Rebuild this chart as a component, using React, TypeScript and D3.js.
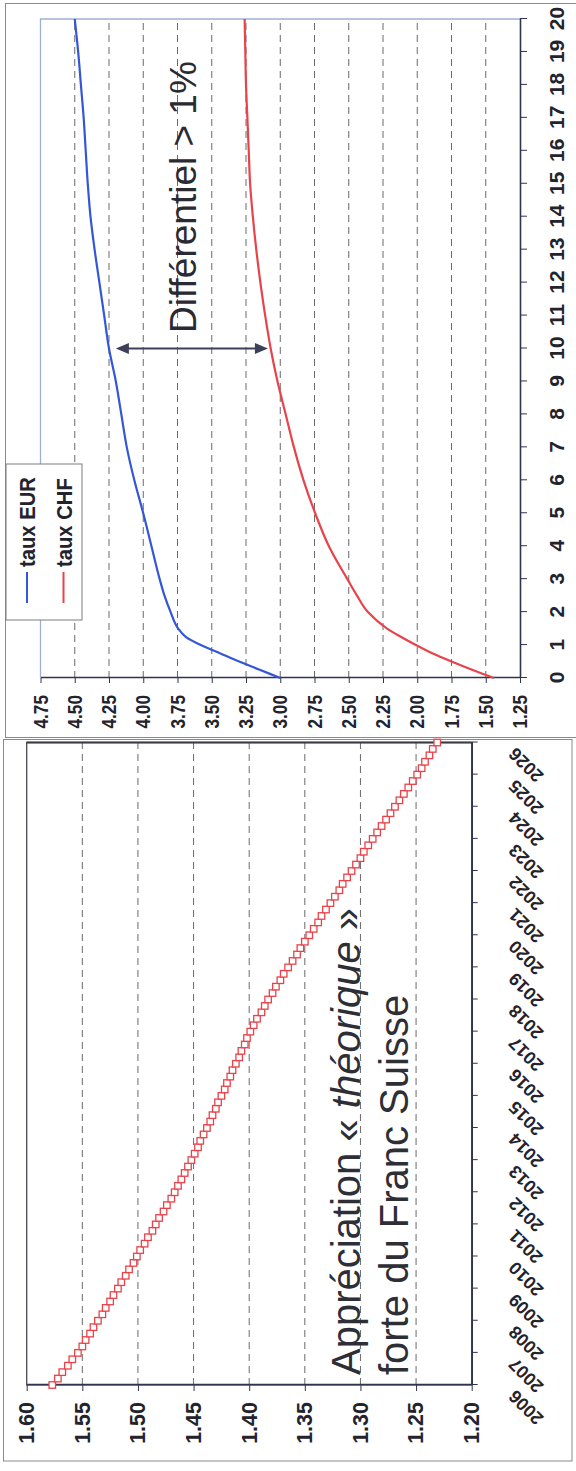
import { useEffect, useRef } from 'react';
import * as d3 from 'd3';

// the scan shows both charts turned a quarter turn counter-clockwise,
// so each one is drawn upright inside a <g> and that group is rotated -90deg
const width = 576
const height = 1471

const FONT = '"Liberation Sans", Arial, Helvetica, sans-serif'
const INK = '#23232d'
const AXIS = '#30344f'
const GRID = '#6a6a6a'
const BLUE = '#3357d6'
const RED = '#e8434b'

// top chart: yield curves
const maturities = [0, 0.25, 0.5, 0.75, 1, 1.25, 1.5, 2, 2.5, 3, 4, 5, 6, 7, 8, 9, 10, 11, 12, 13, 14, 15, 16, 17, 18, 19, 20]
const tauxEUR = [3.0, 3.15, 3.3, 3.44, 3.58, 3.69, 3.745, 3.8, 3.845, 3.88, 3.94, 4.0, 4.065, 4.12, 4.16, 4.2, 4.25, 4.285, 4.32, 4.355, 4.385, 4.405, 4.42, 4.435, 4.455, 4.475, 4.5]
const tauxCHF = [1.44, 1.6, 1.75, 1.89, 2.01, 2.12, 2.22, 2.36, 2.44, 2.51, 2.645, 2.745, 2.83, 2.9, 2.96, 3.02, 3.07, 3.11, 3.145, 3.175, 3.2, 3.22, 3.23, 3.24, 3.25, 3.255, 3.26]
const maturityTicks = [0, 1, 2, 3, 4, 5, 6, 7, 8, 9, 10, 11, 12, 13, 14, 15, 16, 17, 18, 19, 20]
const rateTicks = [4.75, 4.5, 4.25, 4.0, 3.75, 3.5, 3.25, 3.0, 2.75, 2.5, 2.25, 2.0, 1.75, 1.5, 1.25]
const legendLabels = ['taux EUR', 'taux CHF']

// bottom chart: EUR/CHF path, 5 points a year
const yearTicks = [2006, 2007, 2008, 2009, 2010, 2011, 2012, 2013, 2014, 2015, 2016, 2017, 2018, 2019, 2020, 2021, 2022, 2023, 2024, 2025, 2026]
const eurChf = [
  1.577, 1.572, 1.568, 1.563, 1.559,
  1.554, 1.55, 1.547, 1.543, 1.54,
  1.536, 1.532, 1.529, 1.525, 1.522,
  1.518, 1.515, 1.511, 1.508, 1.504,
  1.501, 1.498, 1.494, 1.491, 1.487,
  1.484, 1.481, 1.477, 1.474, 1.47,
  1.467, 1.464, 1.461, 1.458, 1.455,
  1.452, 1.449, 1.446, 1.444, 1.441,
  1.438, 1.435, 1.433, 1.43, 1.428,
  1.425, 1.422, 1.42, 1.417, 1.415,
  1.412, 1.409, 1.407, 1.404, 1.402,
  1.399, 1.396, 1.393, 1.389, 1.386,
  1.383, 1.379, 1.376, 1.372, 1.369,
  1.365, 1.361, 1.357, 1.354, 1.35,
  1.346, 1.342, 1.338, 1.335, 1.331,
  1.327, 1.323, 1.319, 1.316, 1.312,
  1.308, 1.304, 1.3, 1.297, 1.293,
  1.289, 1.285, 1.281, 1.277, 1.273,
  1.269, 1.265, 1.261, 1.257, 1.253,
  1.249, 1.245, 1.242, 1.238, 1.235,
  1.231,
]
const fxTicks = [1.6, 1.55, 1.5, 1.45, 1.4, 1.35, 1.3, 1.25, 1.2]

const App = () => {
  const d3svg = useRef(null)

  useEffect(() => {
    if (!d3svg.current) return
    const svg = d3.select(d3svg.current)
    svg.selectAll('*').remove()

    // scanned panel frames
    svg.append('rect').attr('x', 5.5).attr('y', 3.5).attr('width', 600).attr('height', 734)
      .attr('fill', 'none').attr('stroke', '#8a8a8a')
    svg.append('rect').attr('x', 3.5).attr('y', 739.5).attr('width', 568.5).attr('height', 721.5)
      .attr('fill', 'none').attr('stroke', '#8a8a8a')

    // ---------- top chart ----------
    const w1 = 659
    const h1 = 479.5
    const g1 = svg.append('g').attr('transform', 'translate(40.5,678) rotate(-90)')
    const x1 = d3.scaleLinear().domain([0, 20]).range([0, w1])
    const y1 = d3.scaleLinear().domain([1.25, 4.75]).range([h1, 0])

    g1.selectAll('.grid').data(rateTicks.filter(v => v > 1.25 && v < 4.75)).join('line')
      .attr('class', 'grid')
      .attr('x1', 0).attr('x2', w1)
      .attr('y1', d => y1(d)).attr('y2', d => y1(d))
      .attr('stroke', GRID).attr('stroke-dasharray', '7,5')

    // light plot border on the two far sides
    g1.append('path').attr('d', `M0,0H${w1}V${h1}`)
      .attr('fill', 'none').attr('stroke', '#9fb0d8').attr('stroke-width', 1.3)

    const xAxis1 = g1.append('g').attr('transform', `translate(0,${h1})`)
      .call(d3.axisBottom(x1).tickValues(maturityTicks).tickSize(7).tickSizeOuter(0).tickPadding(22).tickFormat(d3.format('d')))
    xAxis1.select('.domain').attr('stroke', AXIS).attr('stroke-width', 1.6)
    xAxis1.selectAll('.tick line').attr('stroke', AXIS)
    xAxis1.selectAll('.tick text')
      .attr('fill', INK).attr('font-size', 21).attr('font-weight', 'bold').attr('font-family', FONT)

    const narrow = 0.82
    const yAxis1 = g1.append('g')
      .call(d3.axisLeft(y1).tickValues(rateTicks).tickSize(5).tickSizeOuter(0).tickPadding(12).tickFormat(d3.format('.2f')))
    yAxis1.select('.domain').attr('stroke', AXIS).attr('stroke-width', 1.6)
    yAxis1.selectAll('.tick line').attr('stroke', AXIS)
    yAxis1.selectAll('.tick text')
      .attr('x', -17 / narrow)
      .attr('transform', `scale(${narrow},1)`)
      .attr('fill', INK).attr('font-size', 21).attr('font-weight', 'bold').attr('font-family', FONT)

    const line1 = d3.line<number>()
      .x((_, i) => x1(maturities[i]))
      .y(d => y1(d))
      .curve(d3.curveMonotoneX)

    g1.append('path').datum(tauxEUR).attr('d', line1)
      .attr('fill', 'none').attr('stroke', BLUE).attr('stroke-width', 2.2)
    g1.append('path').datum(tauxCHF).attr('d', line1)
      .attr('fill', 'none').attr('stroke', RED).attr('stroke-width', 2.2)

    // spread arrow at 10 years
    const ax = x1(10)
    const aTop = y1(4.2)
    const aBot = y1(3.09)
    const arrowColor = '#3c4058'
    g1.append('line').attr('x1', ax).attr('x2', ax).attr('y1', aTop + 8).attr('y2', aBot - 8)
      .attr('stroke', arrowColor).attr('stroke-width', 2.2)
    g1.append('path').attr('d', `M${ax},${aTop}L${ax - 5.5},${aTop + 13}L${ax + 5.5},${aTop + 13}Z`).attr('fill', arrowColor)
    g1.append('path').attr('d', `M${ax},${aBot}L${ax - 5.5},${aBot - 13}L${ax + 5.5},${aBot - 13}Z`).attr('fill', arrowColor)

    g1.append('text')
      .attr('x', 345).attr('y', 155.5)
      .attr('font-family', FONT).attr('font-size', 37).attr('fill', '#2a2a33')
      .text('Différentiel > 1%')

    // legend
    const leg = g1.append('g')
    leg.append('rect').attr('x', 58).attr('y', -34.5).attr('width', 156).attr('height', 76)
      .attr('fill', '#fff').attr('stroke', '#7d7d7d')
    const legColors = [BLUE, RED]
    const legBase = [-5.5, 31]
    legendLabels.forEach((label, i) => {
      leg.append('line').attr('x1', 75).attr('x2', 106)
        .attr('y1', legBase[i] - 8).attr('y2', legBase[i] - 8)
        .attr('stroke', legColors[i]).attr('stroke-width', 2)
      leg.append('text')
        .attr('transform', `translate(111,${legBase[i]}) scale(0.92,1)`)
        .attr('font-family', FONT).attr('font-size', 22).attr('font-weight', 'bold').attr('fill', INK)
        .text(label)
    })

    // ---------- bottom chart ----------
    const w2 = 642.5
    const h2 = 445
    const g2 = svg.append('g').attr('transform', 'translate(26.7,1385) rotate(-90)')
    const x2 = d3.scaleLinear().domain([2006, 2026]).range([0, w2])
    const y2 = d3.scaleLinear().domain([1.2, 1.6]).range([h2, 0])

    g2.selectAll('.grid').data(fxTicks.filter(v => v > 1.2 && v < 1.6)).join('line')
      .attr('class', 'grid')
      .attr('x1', 0).attr('x2', w2)
      .attr('y1', d => y2(d)).attr('y2', d => y2(d))
      .attr('stroke', GRID).attr('stroke-dasharray', '7,5')

    g2.append('rect').attr('x', 0).attr('y', 0).attr('width', w2).attr('height', h2)
      .attr('fill', 'none').attr('stroke', '#4a4a55').attr('stroke-width', 1.3)
    g2.append('line').attr('x1', w2).attr('x2', w2).attr('y1', 0).attr('y2', h2)
      .attr('stroke', '#3a3a44').attr('stroke-width', 2.2)

    const xAxis2 = g2.append('g').attr('transform', `translate(0,${h2})`)
      .call(d3.axisBottom(x2).tickValues(yearTicks).tickSize(6).tickSizeOuter(0).tickFormat(d3.format('d')))
    xAxis2.select('.domain').attr('stroke', AXIS).attr('stroke-width', 1.6)
    xAxis2.selectAll('.tick line').attr('stroke', AXIS)
    xAxis2.selectAll('.tick text')
      .attr('y', 0).attr('dy', '0.35em')
      .attr('transform', 'translate(-9,40) rotate(-45)')
      .attr('text-anchor', 'end')
      .attr('fill', INK).attr('font-size', 18).attr('font-weight', 'bold').attr('font-family', FONT)

    const yAxis2 = g2.append('g')
      .call(d3.axisLeft(y2).tickValues(fxTicks).tickSize(6).tickSizeOuter(0).tickPadding(11).tickFormat(d3.format('.2f')))
    yAxis2.select('.domain').attr('stroke', AXIS).attr('stroke-width', 1.6)
    yAxis2.selectAll('.tick line').attr('stroke', AXIS)
    yAxis2.selectAll('.tick text')
      .attr('fill', INK).attr('font-size', 21.5).attr('font-weight', 'bold').attr('font-family', FONT)

    const yearOf = (i: number) => 2006 + i / 5
    const line2 = d3.line<number>()
      .x((_, i) => x2(yearOf(i)))
      .y(d => y2(d))
    g2.append('path').datum(eurChf).attr('d', line2)
      .attr('fill', 'none').attr('stroke', RED).attr('stroke-width', 1)

    const sq = 6.5
    g2.selectAll('.pt').data(eurChf).join('rect')
      .attr('class', 'pt')
      .attr('x', (_, i) => x2(yearOf(i)) - sq / 2)
      .attr('y', d => y2(d) - sq / 2)
      .attr('width', sq).attr('height', sq)
      .attr('fill', '#fff').attr('stroke', RED).attr('stroke-width', 1.3)

    const note = g2.append('g')
      .attr('font-family', FONT).attr('font-size', 40).attr('fill', '#2e2e36')
    const l1 = note.append('text').attr('x', 10).attr('y', 333.3)
    l1.append('tspan').text('Appréciation « ')
    l1.append('tspan').attr('font-style', 'italic').text('théorique')
    l1.append('tspan').text(' »')
    note.append('text').attr('x', 10).attr('y', 381.3).text('forte du Franc Suisse')
  }, [])

  return (
    <svg
      width={width}
      height={height}
      ref={d3svg}
      style={{ position: 'absolute', left: 0, top: 0, background: '#fff' }}
    ></svg>
  )
}

export default App;
